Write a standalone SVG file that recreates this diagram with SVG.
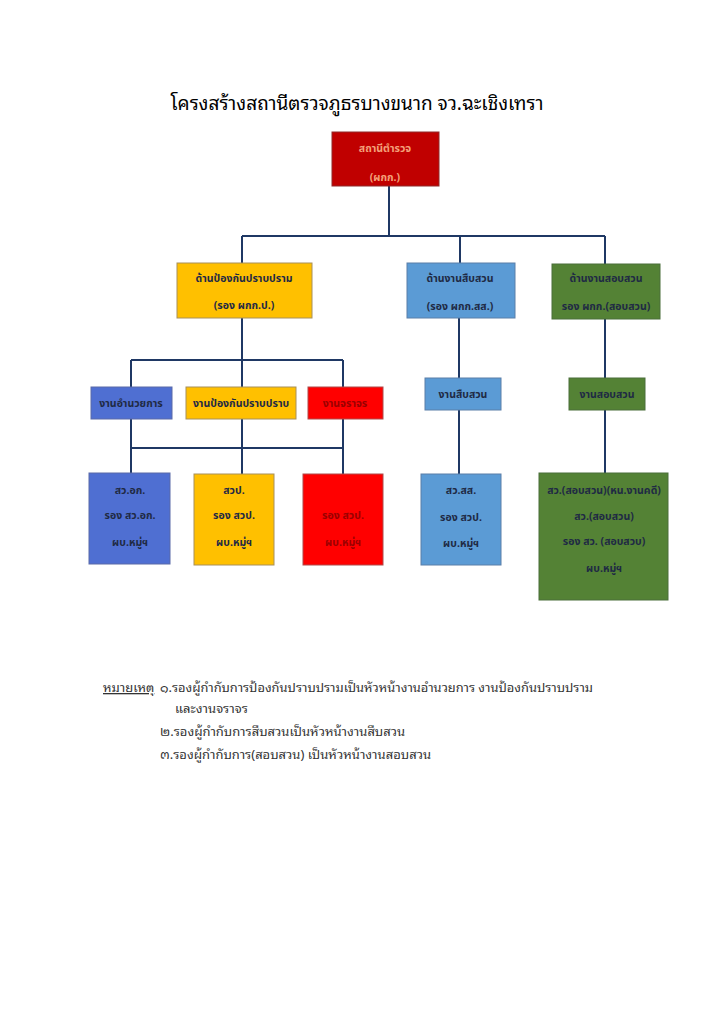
<svg xmlns="http://www.w3.org/2000/svg" width="724" height="1024" viewBox="0 0 724 1024">
<style>
.bg{fill:#ffffff}
.title{font-family:"Noto Sans Thai Looped","Noto Sans Thai","Noto Sans",sans-serif;font-size:19px;fill:#000;text-anchor:middle}
.lbl{font-family:"Noto Sans Thai","Tahoma","Noto Sans",sans-serif;font-size:10.5px;font-weight:bold;fill:#1F2A44;text-anchor:middle}
.lblTop{fill:#F4A07A}
.lblRed{fill:#9A0000}
.note{font-family:"Noto Sans Thai Looped","Noto Sans Thai","Noto Sans",sans-serif;font-size:13px;fill:#333}
.red0{fill:#C00000;stroke:#8f2a2a;stroke-width:1}
.yel{fill:#FFC000;stroke:#A8905A;stroke-width:1}
.blu{fill:#5B9BD5;stroke:#5B7EA8;stroke-width:1}
.grn{fill:#548235;stroke:#4A6E3A;stroke-width:1}
.ind{fill:#4F6FD2;stroke:#5A6AA8;stroke-width:1}
.red{fill:#FF0000;stroke:#B04A4A;stroke-width:1}
.conn{fill:none;stroke:#1F3864;stroke-width:2}
</style>
<rect class="bg" x="0" y="0" width="724" height="1024"/>
<text class="title" x="357" y="110" textLength="373" lengthAdjust="spacingAndGlyphs">โครงสร้างสถานีตรวจภูธรบางขนาก จว.ฉะเชิงเทรา</text>

<g id="connectors">
<path class="conn" d="M389 186 V236 M242 236 H605 M242 236 V263 M460 236 V263 M605 236 V264"/>
<path class="conn" d="M242 318 V360 M131 360 H343 M131 360 V387 M242 360 V387 M343 360 V387"/>
<path class="conn" d="M131 419 V473 M242 419 V474 M343 419 V474 M131 448 H343"/>
<path class="conn" d="M459 318 V378 M459 410 V474"/>
<path class="conn" d="M605 319 V378 M605 410 V473"/>
</g>

<g id="n-station">
<rect class="red0" x="332" y="132" width="107" height="54"/>
<text class="lbl lblTop" x="385" y="152">สถานีตำรวจ</text>
<text class="lbl lblTop" x="385" y="181">(ผกก.)</text>
</g>

<g id="n-prevent">
<rect class="yel" x="177" y="263" width="135" height="55"/>
<text class="lbl" x="244" y="282">ด้านป้องกันปราบปราม</text>
<text class="lbl" x="244" y="309">(รอง ผกก.ป.)</text>
</g>

<g id="n-investigate">
<rect class="blu" x="407" y="263" width="108" height="55"/>
<text class="lbl" x="460" y="282">ด้านงานสืบสวน</text>
<text class="lbl" x="460" y="310">(รอง ผกก.สส.)</text>
</g>

<g id="n-inquiry">
<rect class="grn" x="552" y="264" width="108" height="55"/>
<text class="lbl" x="606" y="282">ด้านงานสอบสวน</text>
<text class="lbl" x="606" y="310">รอง ผกก.(สอบสวน)</text>
</g>

<g id="n-admin">
<rect class="ind" x="91" y="387" width="81" height="32"/>
<text class="lbl" x="131" y="407">งานอำนวยการ</text>
</g>

<g id="n-prevwork">
<rect class="yel" x="186" y="387" width="110" height="32"/>
<text class="lbl" x="241" y="407">งานป้องกันปราบปราบ</text>
</g>

<g id="n-traffic">
<rect class="red" x="308" y="387" width="75" height="32"/>
<text class="lbl lblRed" x="345" y="407">งานจราจร</text>
</g>

<g id="n-invwork">
<rect class="blu" x="425" y="378" width="76" height="32"/>
<text class="lbl" x="463" y="398">งานสืบสวน</text>
</g>

<g id="n-inqwork">
<rect class="grn" x="569" y="378" width="76" height="32"/>
<text class="lbl" x="607" y="398">งานสอบสวน</text>
</g>

<g id="n-admin-staff">
<rect class="ind" x="89" y="473" width="81" height="91"/>
<text class="lbl" x="130" y="494">สว.อก.</text>
<text class="lbl" x="130" y="519">รอง สว.อก.</text>
<text class="lbl" x="130" y="546">ผบ.หมู่ฯ</text>
</g>

<g id="n-prev-staff">
<rect class="yel" x="194" y="474" width="80" height="91"/>
<text class="lbl" x="234" y="494">สวป.</text>
<text class="lbl" x="234" y="519">รอง สวป.</text>
<text class="lbl" x="234" y="546">ผบ.หมู่ฯ</text>
</g>

<g id="n-traffic-staff">
<rect class="red" x="303" y="474" width="80" height="91"/>
<text class="lbl lblRed" x="343" y="519">รอง สวป.</text>
<text class="lbl lblRed" x="343" y="546">ผบ.หมู่ฯ</text>
</g>

<g id="n-inv-staff">
<rect class="blu" x="421" y="474" width="80" height="91"/>
<text class="lbl" x="461" y="494">สว.สส.</text>
<text class="lbl" x="461" y="521">รอง สวป.</text>
<text class="lbl" x="461" y="547">ผบ.หมู่ฯ</text>
</g>

<g id="n-inq-staff">
<rect class="grn" x="539" y="473" width="129" height="127"/>
<text class="lbl" x="604" y="494">สว.(สอบสวน)(หน.งานคดี)</text>
<text class="lbl" x="604" y="520">สว.(สอบสวน)</text>
<text class="lbl" x="604" y="545">รอง สว. (สอบสวบ)</text>
<text class="lbl" x="604" y="572">ผบ.หมู่ฯ</text>
</g>

<g id="notes">
<text class="note" x="103" y="692" text-decoration="underline">หมายเหตุ</text>
<text class="note" x="160" y="692" textLength="433" lengthAdjust="spacingAndGlyphs">๑.รองผู้กำกับการป้องกันปราบปรามเป็นหัวหน้างานอำนวยการ งานป้องกันปราบปราม</text>
<text class="note" x="175" y="713">และงานจราจร</text>
<text class="note" x="160" y="736">๒.รองผู้กำกับการสืบสวนเป็นหัวหน้างานสืบสวน</text>
<text class="note" x="160" y="759">๓.รองผู้กำกับการ(สอบสวน) เป็นหัวหน้างานสอบสวน</text>
</g>
</svg>
